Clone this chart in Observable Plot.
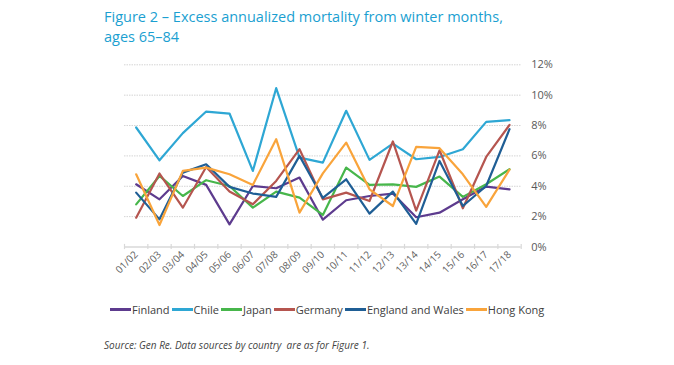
<!DOCTYPE html>
<html><head><meta charset="utf-8">
<script src="https://cdn.jsdelivr.net/npm/d3@7"></script>
<script src="https://cdn.jsdelivr.net/npm/@observablehq/plot@0.6"></script>
<style>
body{margin:0;background:#fff;font-family:"Open Sans",sans-serif;}
#wrap{position:relative;width:674px;height:365px;overflow:hidden;background:#fff}
#title{position:absolute;left:104px;top:7px;color:#1b9fd1;font-size:14.5px;line-height:20px;white-space:nowrap}
#legend{position:absolute;top:302px;left:110px;display:flex;align-items:center;font-size:11px;color:#404040;white-space:nowrap}
#legend .it{display:flex;align-items:center;margin-right:2px}
#legend .sw{width:21px;height:2.5px;margin-right:1px}
#caption{position:absolute;left:104px;top:338px;font-style:italic;font-size:10px;color:#444;white-space:nowrap}
#chart{position:absolute;left:0;top:0}
</style></head>
<body>
<div id="wrap">
<div id="chart"></div>
<div id="title">Figure 2 – Excess annualized mortality from winter months,<br>ages 65–84</div>
<div id="legend"></div>
<div id="caption">Source: Gen Re. Data sources by country&nbsp; are as for Figure 1.</div>
</div>
<script>
const seasons = ["01/02","02/03","03/04","04/05","05/06","06/07","07/08","08/09","09/10","10/11","11/12","12/13","13/14","14/15","15/16","16/17","17/18"];
const countries = ["Finland","Chile","Japan","Germany","England and Wales","Hong Kong"];
const colors = ["#5d3b8e","#2ea7d4","#47b64b","#b5554f","#1f5e95","#f9a43b"];
const finland  = [4.13,3.14,4.68,4.09,1.49,4.02,3.87,4.57,1.80,3.08,3.36,3.52,1.96,2.26,3.14,3.98,3.80];
const chile    = [7.87,5.71,7.50,8.92,8.79,5.01,10.46,5.89,5.56,8.97,5.74,6.81,5.78,5.93,6.44,8.24,8.35];
const japan    = [2.81,4.68,3.36,4.40,4.02,2.59,3.65,3.25,2.11,5.23,4.09,4.13,3.96,4.64,3.30,4.13,5.12];
const germany  = [1.93,4.84,2.59,5.27,3.65,2.81,4.35,6.44,3.14,3.58,3.03,6.95,2.40,6.37,2.55,5.93,8.04];
const england  = [3.58,1.82,4.90,5.45,3.96,3.52,3.30,6.00,3.23,4.46,2.20,3.65,1.52,5.67,2.70,4.02,7.76];
const hongkong = [4.79,1.45,5.01,5.23,4.79,4.09,7.10,2.26,4.85,6.88,3.80,2.70,6.59,6.51,4.79,2.64,5.10];
const yTicks = [0,2,4,6,8,10,12];

const seriesList = [finland, chile, japan, germany, england, hongkong];
const data = [];
seriesList.forEach((vals, k) => vals.forEach((v, i) => data.push({country: countries[k], i, v})));
const idx = seasons.map((s, i) => i);
const bounds = d3.range(seasons.length + 1).map(i => i - 0.5);

const chart = Plot.plot({
  width: 674, height: 365,
  marginLeft: 124, marginRight: 153.3, marginTop: 64.3, marginBottom: 118.5,
  x: {domain: [-0.5, seasons.length - 0.5]},
  y: {domain: [0, 12]},
  color: {domain: countries, range: colors},
  style: {fontFamily: "'Open Sans', sans-serif", fontSize: "11px", color: "#595959", background: "transparent"},
  marks: [
    Plot.gridY({ticks: yTicks.filter(d => d > 0), stroke: "#d4d4d4", strokeOpacity: 1, strokeDasharray: "1.5,1"}),
    Plot.ruleY([0], {stroke: "#d9d9d9", strokeWidth: 1.5}),
    Plot.ruleX(bounds, {x: d => d, y1: -0.17, y2: 0.17, stroke: "#d9d9d9", strokeWidth: 1.2}),
    Plot.axisY({anchor: "right", ticks: yTicks, tickSize: 0, tickPadding: 10, tickFormat: d => d + "%", label: null, fill: "#595959"}),
    Plot.axisX({ticks: idx, tickFormat: i => seasons[i], tickRotate: -45, tickSize: 0, tickPadding: 6, label: null, fill: "#5f5f5f", fontSize: 10}),
    Plot.line(data, {x: "i", y: "v", z: "country", stroke: "country", strokeWidth: 2.2})
  ]
});
document.getElementById("chart").appendChild(chart);

const leg = document.getElementById("legend");
countries.forEach((c, k) => {
  const it = document.createElement("div"); it.className = "it";
  const sw = document.createElement("div"); sw.className = "sw"; sw.style.background = colors[k];
  const t = document.createElement("span"); t.textContent = c;
  it.appendChild(sw); it.appendChild(t); leg.appendChild(it);
});
</script>
</body></html>
